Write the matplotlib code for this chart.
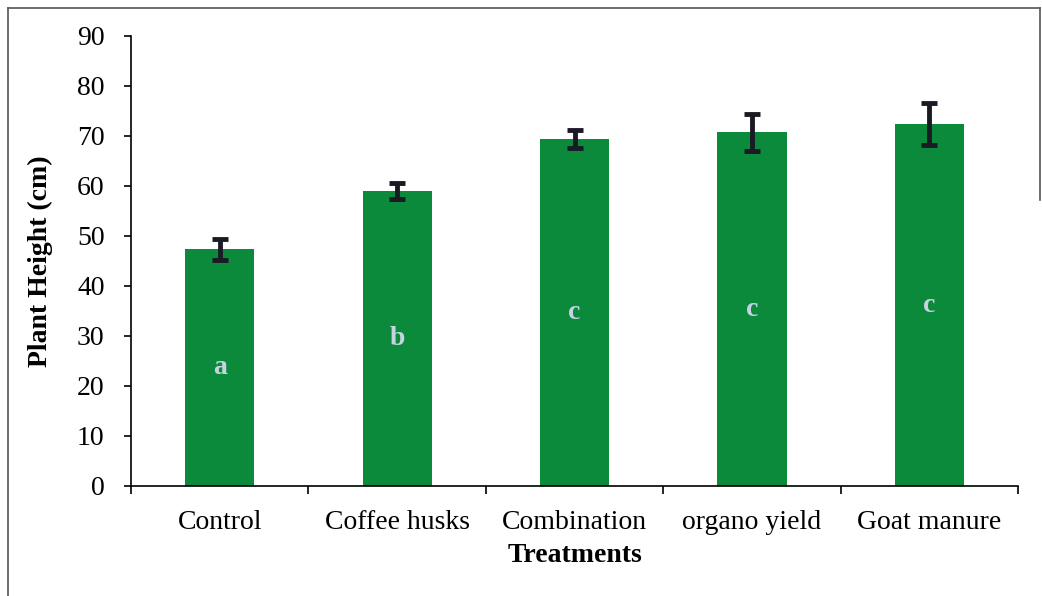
import matplotlib.pyplot as plt
from matplotlib.lines import Line2D

# dados
treatments = ['Control', 'Coffee husks', 'Combination', 'organo yield', 'Goat manure']
height = [47.3, 59.0, 69.3, 70.7, 72.3]
err = [2.1, 1.6, 1.8, 3.7, 4.2]
letters = ['a', 'b', 'c', 'c', 'c']

plt.rcParams['font.family'] = ['Liberation Serif', 'DejaVu Serif']

fig = plt.figure(figsize=(10.42, 5.96), dpi=100)
ax = fig.add_axes([0.1257, 0.1846, 0.977 - 0.1257, 0.9396 - 0.1846])

x = range(len(treatments))
ax.bar(x, height, width=0.39, color='#0b8a3c', zorder=2)
ax.errorbar(x, height, yerr=err, fmt='none', ecolor='#1a1a24',
            elinewidth=3.5, capsize=6, capthick=3.5, zorder=3)

# letras de significancia no meio das barras
for i, (h, l) in enumerate(zip(height, letters)):
    ax.text(i, h / 2, l, ha='center', va='center', fontsize=20,
            fontweight='bold', color='#c5d3e0', zorder=4)

ax.set_xlim(-0.5, 4.5)
ax.set_ylim(0, 90)
ax.set_yticks(range(0, 91, 10))
ax.set_xticks(x)
ax.set_xticklabels(treatments)
ax.set_xticks([i - 0.5 for i in range(6)], minor=True)
ax.tick_params(axis='x', which='major', length=0, pad=17, labelsize=20)
ax.tick_params(axis='x', which='minor', length=6, width=1.2, direction='out')
ax.tick_params(axis='y', length=5, width=1.2, labelsize=20, pad=14)

for s in ['top', 'right']:
    ax.spines[s].set_visible(False)
ax.spines['left'].set_linewidth(1.2)
ax.spines['bottom'].set_linewidth(1.2)

ax.set_xlabel('Treatments', fontsize=20, fontweight='bold', labelpad=6)
ax.set_ylabel('Plant Height (cm)', fontsize=20, fontweight='bold', labelpad=17)

# moldura externa
W, H = 1042, 596
fig.add_artist(Line2D([8 / W, 8 / W], [0, 1 - 8 / H], color='#555555', lw=1.2))
fig.add_artist(Line2D([8 / W, 1040 / W], [1 - 8 / H, 1 - 8 / H], color='#555555', lw=1.2))
fig.add_artist(Line2D([1040 / W, 1040 / W], [1 - 8 / H, 1 - 200 / H], color='#555555', lw=1.2))

fig.savefig('out.png', dpi=100)
